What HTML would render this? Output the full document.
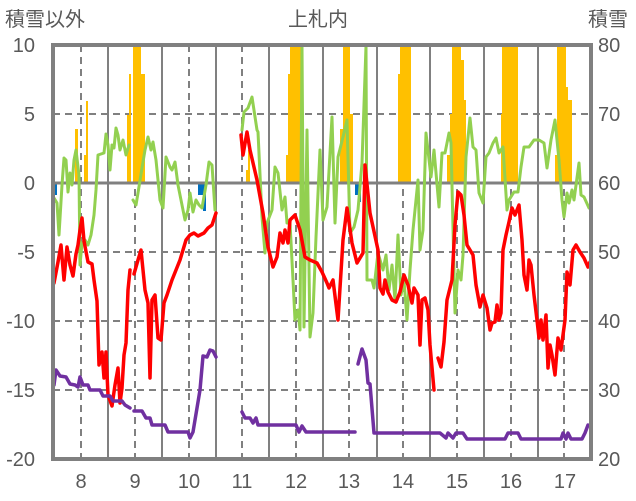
<!DOCTYPE html>
<html><head><meta charset="utf-8"><style>
html,body{margin:0;padding:0;background:#fff;}
svg{display:block;font-family:"Liberation Sans","Noto Sans CJK JP",sans-serif;}
</style></head><body>
<svg width="636" height="501" viewBox="0 0 636 501">
<rect width="636" height="501" fill="#fff"/>
<!-- grid -->
<g stroke="#808080" stroke-width="2" fill="none">
<g stroke-dasharray="7,5">
<line x1="53" y1="114" x2="591" y2="114"/><line x1="53" y1="252" x2="591" y2="252"/>
<line x1="53" y1="321" x2="591" y2="321"/><line x1="53" y1="390" x2="591" y2="390"/>
<line x1="81" y1="45" x2="81" y2="459"/><line x1="135" y1="45" x2="135" y2="459"/>
<line x1="189" y1="45" x2="189" y2="459"/><line x1="242" y1="45" x2="242" y2="459"/>
<line x1="296" y1="45" x2="296" y2="459"/><line x1="349" y1="45" x2="349" y2="459"/>
<line x1="403" y1="45" x2="403" y2="459"/><line x1="457" y1="45" x2="457" y2="459"/>
<line x1="511" y1="45" x2="511" y2="459"/><line x1="564" y1="45" x2="564" y2="459"/>
</g>
<line x1="108" y1="45" x2="108" y2="459"/><line x1="162" y1="45" x2="162" y2="459"/>
<line x1="216" y1="45" x2="216" y2="459"/><line x1="269" y1="45" x2="269" y2="459"/>
<line x1="323" y1="45" x2="323" y2="459"/><line x1="377" y1="45" x2="377" y2="459"/>
<line x1="430" y1="45" x2="430" y2="459"/><line x1="484" y1="45" x2="484" y2="459"/>
<line x1="538" y1="45" x2="538" y2="459"/>
</g>
<!-- bars -->
<g fill="#FFC000">
<rect x="75" y="129" width="3" height="54"/>
<rect x="84" y="155" width="2" height="28"/><rect x="86" y="101" width="2" height="82"/>
<rect x="127" y="115" width="2" height="68"/><rect x="129" y="74" width="2" height="109"/>
<rect x="133" y="46" width="8" height="137"/><rect x="141" y="74" width="4" height="109"/>
<rect x="246" y="170" width="2" height="13"/><rect x="248" y="150" width="2" height="33"/>
<rect x="286" y="155" width="2" height="28"/><rect x="288" y="74" width="2" height="109"/><rect x="290" y="46" width="11" height="137"/>
<rect x="340" y="129" width="3" height="54"/><rect x="343" y="46" width="7" height="137"/><rect x="350" y="114" width="3" height="69"/>
<rect x="398" y="74" width="2" height="109"/><rect x="400" y="46" width="11" height="137"/>
<rect x="447" y="155" width="3" height="28"/><rect x="450" y="114" width="2" height="69"/><rect x="452" y="46" width="9" height="137"/><rect x="461" y="60" width="3" height="123"/><rect x="464" y="100" width="2" height="83"/>
<rect x="501" y="114" width="1" height="69"/><rect x="502" y="46" width="16" height="137"/>
<rect x="555" y="155" width="2" height="28"/><rect x="557" y="46" width="9" height="137"/><rect x="566" y="87" width="2" height="96"/><rect x="568" y="100" width="4" height="83"/>
</g>
<g fill="#0070C0">
<rect x="54" y="183" width="3" height="12"/>
<rect x="198" y="183" width="5" height="12"/><rect x="203" y="183" width="3" height="28"/>
<rect x="355" y="183" width="3" height="12"/><rect x="358" y="183" width="3" height="19"/>
</g>
<line x1="53" y1="183" x2="591" y2="183" stroke="#808080" stroke-width="3"/>
<!-- lines -->
<g fill="none" stroke-linejoin="round" stroke-linecap="round">
<g stroke="#92D050" stroke-width="3">
<polyline points="54,198 57,203 59,235 62,185 64,158 66,160 68,192 70,173 72,185 74,160 76,150 79,175 80,265 82,243 85,240 88,245 91,235 94,215 96,190 98,155 101,154 104,153 106,134 108,145 110,170 112,145 114,148 116,128 118,135 120,150 123,140 126,155 129,145"/>
<polyline points="133,200 136,205 138,193 142,168 145,150 148,137 151,150 153,142 156,160 160,200 163,208 166,157 170,167 172,170 175,162 178,185 181,200 185,220 188,210 190,193 193,212 196,200 199,205 202,208 206,185 209,162 212,165 215,210"/>
<polyline points="242,130 244,112 248,108 252,97 257,130 258,132 262,217 265,253 267,223 272,210 275,167 278,173 282,210 285,197 287,223 290,223 293,280 295,320 298,310 300,330 302,46 304,327 307,130 310,337 313,313 316,237 320,150 323,220 327,207 332,117 335,223 338,157 343,137 347,120 350,233 354,227 358,210 362,163 366,46 367,280 372,280 374,288 378,253 383,270 386,255 389,290 392,265 395,300 398,235 401,295 404,280 407,320 410,270 413,230 416,200 418,180 420,250 423,230 426,133 431,177 434,150 439,207 442,153 445,153 449,133 451,143 455,313 458,270 461,280 463,255 466,157 470,118 473,147 476,150 479,193 483,203 486,157 489,153 493,143 496,138 499,153 503,147 507,210 509,200 514,192 518,192 521,167 524,147 529,147 534,140 539,140 544,143 547,168 551,140 555,120 559,160 562,200 564,217 567,193 569,203 572,190 574,200 579,163 581,195 584,197 589,208"/>
</g>
<g stroke="#FF0000" stroke-width="3.5">
<polyline points="54,283 58,262 61,245 64,280 67,247 70,265 73,276 76,254 78,245 80,230 82,218 84,241 88,262 92,264 94,280 97,301 99,365 102,352 104,378 106,352 108,395 112,406 115,385 118,368 120,403 122,388 124,355 126,343 128,290 130,270"/>
<polyline points="134,274 138,260 141,250 145,290 148,303 150,378 152,300 155,295 158,338 161,340 164,303 167,295 172,280 180,260 186,240 190,235 194,233 198,236 204,233 208,228 212,225 216,213"/>
<polyline points="241,135 243,155 247,132 250,150 257,180 263,213 268,247 273,267 277,257 280,233 283,243 285,230 288,243 290,220 295,215 300,230 305,257 310,260 317,263 322,272 327,283 329,288 333,280 338,320 343,240 347,208 352,243 357,263 363,253 365,165 370,213 378,250 380,288 383,294 385,280 388,292 392,300 396,302 400,292 404,275 408,285 412,303 414,288 418,295 420,345 422,300 425,298 428,310 430,345 434,390"/>
<polyline points="438,358 441,367 444,342 447,300 452,280 455,225 458,192 461,195 464,215 467,245 470,250 473,255 476,285 480,307 483,295 487,308 490,330 492,323 495,322 497,305 499,320 501,313 503,250 506,235 509,222 512,208 515,215 519,205 522,240 524,275 527,290 529,260 531,265 534,295 537,320 539,338 541,320 543,340 546,315 548,368 550,345 552,355 555,375 558,338 561,350 565,320 567,272 570,285 573,250 576,245 580,252 584,258 588,267 590,262"/>
</g>
<g stroke="#7030A0" stroke-width="3.5">
<polyline points="54,385 56,370 60,376 66,377 70,384 75,385 78,387 80,377 83,385 88,385 90,390 100,390 103,396 110,396 113,401 122,401 125,405 130,408"/>
<polyline points="134,411 142,411 146,418 150,418 152,425 165,425 168,432 188,432 190,438 193,432 200,390 203,356 207,357 210,350 213,351 216,357"/>
<polyline points="242,412 245,418 250,418 253,423 256,418 258,425 296,425 299,432 302,426 306,432 355,432"/>
<polyline points="358,364 362,349 366,360 368,383 370,384 374,433 435,433 440,433 446,438 448,433 453,438 456,433 463,433 467,439 505,439 508,433 518,433 521,439 561,439 563,433 566,439 568,433 571,439 582,439 585,433 588,425"/>
</g>
</g>
<!-- frame -->
<rect x="53" y="45" width="538" height="414" fill="none" stroke="#808080" stroke-width="4"/>
<!-- labels -->
<g fill="#595959" font-size="20">
<text x="318" y="26" text-anchor="middle">上札内</text>
<text x="5" y="26">積雪以外</text>
<text x="588" y="26">積雪</text>
<g text-anchor="end">
<text x="35" y="52">10</text><text x="35" y="121">5</text><text x="35" y="190">0</text>
<text x="35" y="259">-5</text><text x="35" y="328">-10</text><text x="35" y="397">-15</text><text x="35" y="466">-20</text>
</g>
<g text-anchor="start">
<text x="598" y="52">80</text><text x="598" y="121">70</text><text x="598" y="190">60</text>
<text x="598" y="259">50</text><text x="598" y="328">40</text><text x="598" y="397">30</text><text x="598" y="466">20</text>
</g>
<g text-anchor="middle">
<text x="81" y="488">8</text><text x="135" y="488">9</text><text x="189" y="488">10</text><text x="242" y="488">11</text>
<text x="296" y="488">12</text><text x="349" y="488">13</text><text x="403" y="488">14</text><text x="457" y="488">15</text>
<text x="511" y="488">16</text><text x="565" y="488">17</text>
</g>
</g>
</svg>
</body></html>
